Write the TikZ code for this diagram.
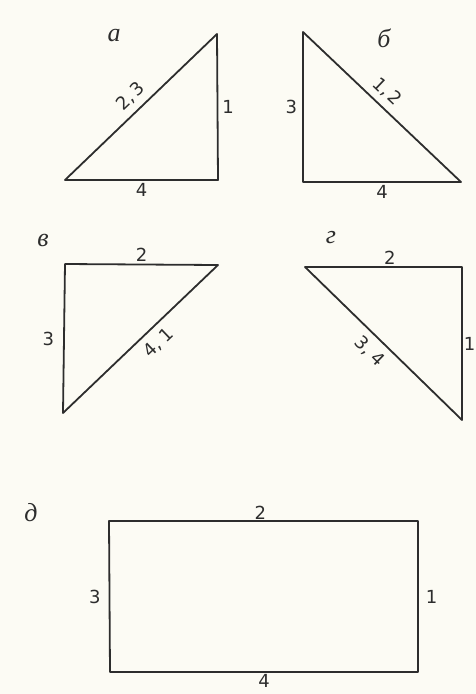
\documentclass[tikz,border=0pt]{standalone}
\usepackage{fontspec}
\setmainfont{DejaVu Sans}
\newfontfamily\letterfont{Liberation Serif}
\usepackage{tikz}
\usetikzlibrary{positioning}

\definecolor{paper}{RGB}{252,251,244}
\definecolor{pencil}{RGB}{45,45,45}

\begin{document}
\begin{tikzpicture}[
    x=1pt, y=-1pt,
    figline/.style={draw=pencil, line width=1.8pt, line join=round},
    sidelabel/.style={text=pencil, inner sep=1pt, font=\fontsize{18}{20}\selectfont},
    partlabel/.style={text=pencil, inner sep=0pt, font=\letterfont\itshape\fontsize{26}{28}\selectfont}
]

% Background
\fill[paper] (0,0) rectangle (476,694);
\useasboundingbox (0,0) rectangle (476,694);

% Vertices
\coordinate (a1) at (65,180);  \coordinate (a2) at (218,180);  \coordinate (a3) at (217,34);
\coordinate (b1) at (303,32);  \coordinate (b2) at (303,182);  \coordinate (b3) at (461,182);
\coordinate (v1) at (65,264);  \coordinate (v2) at (218,265);  \coordinate (v3) at (63,413);
\coordinate (g1) at (305,267); \coordinate (g2) at (462,267);  \coordinate (g3) at (462,420);
\coordinate (d1) at (109,521); \coordinate (d2) at (418,521);  \coordinate (d3) at (418,672); \coordinate (d4) at (110,672);

% Part letters
\node[partlabel] (pa) at (114,36)  {а};
\node[partlabel] (pb) at (384,38)  {б};
\node[partlabel] (pv) at (43,240)  {в};
\node[partlabel] (pg) at (331,238) {г};
\node[partlabel] (pd) at (31,513)  {д};

% Figure a
\draw[figline] (a1) -- node[sidelabel, below=1pt] (a4l) {4} (a2)
    -- node[sidelabel, right=3pt] (a1l) {1} (a3)
    -- node[sidelabel, sloped, above=5pt, pos=0.5] (a23l) {2,\,3} cycle;

% Figure b
\draw[figline] (b1) -- node[sidelabel, left=4pt] (b3l) {3} (b2)
    -- node[sidelabel, below=1pt] (b4l) {4} (b3)
    -- node[sidelabel, sloped, above=5pt, pos=0.53] (b12l) {1,\,2} cycle;

% Figure v
\draw[figline] (v1) -- node[sidelabel, above=1pt] (v2l) {2} (v2)
    -- node[sidelabel, sloped, below=6pt, pos=0.45] (v41l) {4,\;1} (v3)
    -- node[sidelabel, left=8pt] (v3l) {3} cycle;

% Figure g
\draw[figline] (g1) -- node[sidelabel, above=1pt, pos=0.54] (g2l) {2} (g2)
    -- node[sidelabel, right=0pt] (g1l) {1} (g3)
    -- node[sidelabel, sloped, below=6pt, pos=0.52] (g34l) {3,\;4} cycle;

% Figure d
\draw[figline] (d1) -- node[sidelabel, above=0pt, pos=0.49] (d2l) {2} (d2)
    -- node[sidelabel, right=6pt] (d1l) {1} (d3)
    -- node[sidelabel, below=0pt, pos=0.5] (d4l) {4} (d4)
    -- node[sidelabel, left=7pt] (d3l) {3} cycle;

\end{tikzpicture}
\end{document}
